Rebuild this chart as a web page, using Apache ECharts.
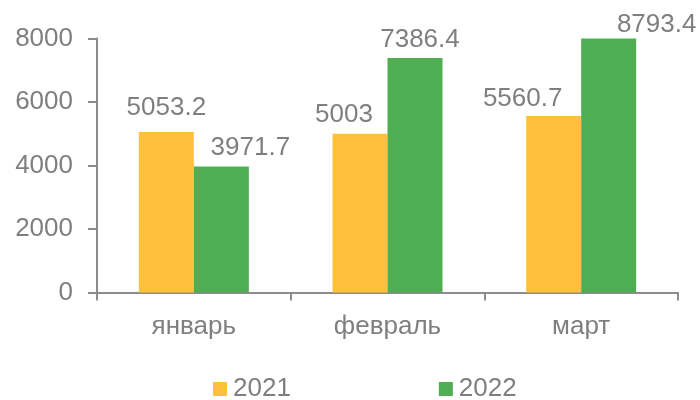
<!DOCTYPE html>
<html>
<head>
<meta charset="utf-8">
<style>
    html, body { margin: 0; padding: 0; background: #fff; }
    #main { width: 700px; height: 400px; }
</style>
<script src="https://cdn.jsdelivr.net/npm/echarts@6/dist/echarts.min.js"></script>
</head>
<body>
<div id="main"></div>
<script>
const months = ['январь', 'февраль', 'март'];
const values2021 = [5053.2, 5003, 5560.7];
const values2022 = [3971.7, 7386.4, 8793.4];
const yTicks = [0, 2000, 4000, 6000, 8000];
// hand placed labels, as in the original
const labelShift2021 = [[0, -11], [-16, -6], [-31, -4]];
const labelShift2022 = [[29, -6], [5, -5], [48, -1]];

const textColor = '#7f7f7f';
const axisColor = '#8c8c8c';

const makeSeries = (name, color, values, shifts) => ({
    name: name,
    type: 'bar',
    barWidth: 55,
    barGap: 0,
    itemStyle: { color: color },
    data: values.map((v, i) => ({
        value: v,
        label: {
            show: true,
            position: 'top',
            distance: 0,
            offset: shifts[i],
            color: textColor,
            fontSize: 26,
            fontFamily: 'Liberation Sans',
        },
    })),
});

const myChart = echarts.init(document.getElementById('main'));
myChart.setOption({
    animation: false,
    backgroundColor: '#fff',
    grid: { left: 97, right: 22, top: 38.5, bottom: 107.5 },
    legend: {
        left: 213,
        top: 376,
        itemWidth: 14,
        itemHeight: 14,
        itemGap: 148,
        icon: 'rect',
        data: ['2021', '2022'],
        textStyle: {
            color: textColor,
            fontSize: 26,
            fontFamily: 'Liberation Sans',
            padding: [0, 0, 0, 1],
        },
        padding: 0,
    },
    xAxis: {
        type: 'category',
        data: months,
        axisLine: { lineStyle: { color: axisColor, width: 2 } },
        axisTick: { show: true, alignWithLabel: false, length: 8, lineStyle: { color: axisColor, width: 2 } },
        axisLabel: { color: textColor, fontSize: 26, fontFamily: 'Liberation Sans', margin: 21 },
    },
    yAxis: {
        type: 'value',
        min: yTicks[0],
        max: yTicks[yTicks.length - 1],
        interval: 2000,
        splitLine: { show: false },
        axisLine: { show: true, lineStyle: { color: axisColor, width: 2 } },
        axisTick: { show: true, length: 9, lineStyle: { color: axisColor, width: 2 } },
        axisLabel: {
            color: textColor,
            fontSize: 26,
            fontFamily: 'Liberation Sans',
            margin: 24,
            formatter: (v) => String(v),
        },
    },
    series: [
        makeSeries('2021', '#ffc13b', values2021, labelShift2021),
        makeSeries('2022', '#4fae52', values2022, labelShift2022),
    ],
});
</script>
</body>
</html>
